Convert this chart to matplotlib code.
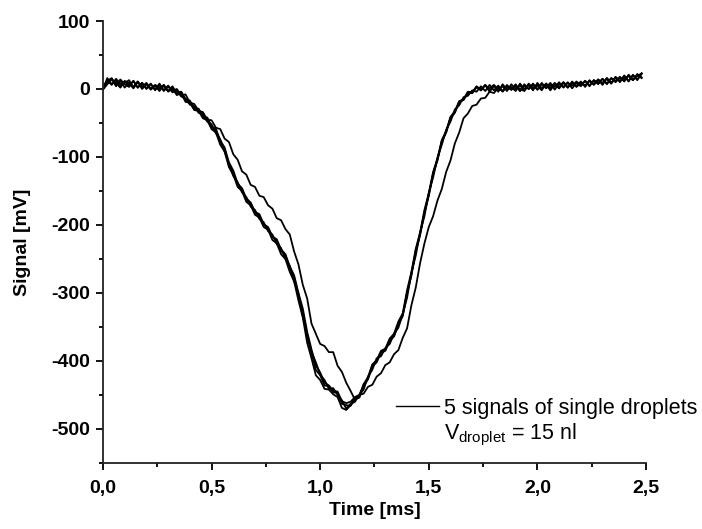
import numpy as np
import matplotlib
matplotlib.use('Agg')
import matplotlib.pyplot as plt
from matplotlib.lines import Line2D

plt.rcParams['font.family'] = ['Liberation Sans', 'DejaVu Sans']
plt.rcParams['mathtext.fontset'] = 'custom'
plt.rcParams['mathtext.rm'] = 'Liberation Sans'
plt.rcParams['axes.unicode_minus'] = False

# sampling times (ms), one value every 0.02 ms
time = np.linspace(0, 2.48, 125)

# droplet signals (mV)
sig1 = [0, 16, 7, 13, 3, 11, 5, 12, 2, 9,
        1, 8, -2, 6, -3, 4, -5, -2, -11, -14,
        -23, -25, -35, -37, -48, -52, -65, -74, -92, -110,
        -128, -137, -152, -159, -173, -178, -191, -196, -209, -214,
        -228, -234, -250, -260, -283, -301, -335, -362, -387, -402,
        -420, -428, -441, -440, -450, -458, -470, -463, -460, -450,
        -442, -423, -413, -396, -393, -381, -375, -360, -351, -331,
        -307, -270, -245, -211, -187, -153, -130, -101, -82, -60,
        -48, -30, -24, -12, -10, -2, -4, 4, -3, 6,
        -2, 5, -4, 4, -1, 7, -3, 5, 0, 8,
        -1, 7, 2, 9, -1, 8, 3, 10, 1, 9,
        4, 12, 5, 13, 7, 15, 8, 16, 10, 17,
        12, 20, 13, 21, 16]
sig2 = [3, 9, 15, 4, 12, 2, 10, 3, 11, 0,
        7, -1, 5, 0, 6, -3, 2, -7, -4, -17,
        -18, -28, -29, -41, -42, -55, -59, -76, -86, -108,
        -120, -139, -146, -161, -167, -181, -184, -199, -203, -217,
        -221, -236, -243, -261, -274, -300, -323, -357, -383, -406,
        -417, -432, -436, -444, -445, -459, -462, -460, -453, -450,
        -435, -426, -407, -400, -387, -384, -369, -363, -345, -333,
        -300, -273, -238, -213, -181, -156, -124, -104, -77, -63,
        -42, -34, -19, -16, -5, -6, 3, 0, 5, 1,
        6, -2, 4, -3, 7, 0, 5, -2, 8, 1,
        7, 0, 8, 2, 9, 1, 10, 3, 8, 4,
        11, 3, 13, 6, 14, 8, 16, 9, 17, 11,
        19, 12, 20, 14, 22]
sig3 = [-1, 7, 14, 9, 2, 12, 8, 1, 10, 3,
        9, 0, 5, -3, 6, -4, 1, -9, -6, -19,
        -20, -31, -32, -43, -46, -59, -64, -82, -92, -115,
        -126, -144, -150, -166, -171, -185, -189, -203, -207, -222,
        -227, -243, -250, -269, -283, -311, -336, -373, -396, -421,
        -428, -441, -442, -449, -453, -469, -472, -465, -454, -453,
        -434, -424, -405, -399, -385, -382, -367, -360, -342, -330,
        -296, -269, -235, -211, -178, -153, -122, -102, -75, -62,
        -41, -33, -18, -15, -4, -5, 4, -2, 6, -3,
        5, -4, 7, -1, 3, -3, 8, 0, 6, -2,
        9, 1, 7, -2, 8, 3, 10, 2, 11, 4,
        9, 5, 12, 7, 14, 6, 16, 8, 18, 10,
        20, 11, 21, 13, 23]
sig4 = [2, 13, 6, 15, 7, 9, 13, 2, 11, 3,
        8, 0, 6, 2, 4, -3, 4, -7, -4, -15,
        -17, -29, -30, -40, -43, -56, -60, -78, -89, -112,
        -123, -141, -147, -163, -168, -182, -186, -200, -204, -218,
        -223, -238, -245, -263, -277, -304, -328, -363, -388, -413,
        -421, -436, -437, -446, -447, -463, -465, -466, -456, -454,
        -437, -427, -408, -402, -388, -385, -370, -364, -346, -334,
        -301, -274, -239, -215, -182, -157, -125, -105, -77, -64,
        -43, -35, -19, -16, -6, -6, 3, -2, 6, -4,
        5, 1, -3, 6, -1, 4, -3, 7, 0, 6,
        -1, 9, 1, 6, 3, 10, 2, 9, 5, 11,
        6, 12, 4, 13, 9, 15, 7, 16, 12, 18,
        11, 21, 14, 19, 23]
sig5 = [0, 12, 16, 6, 14, 7, 3, 12, 2, 9,
        0, 7, -1, 8, -2, 5, -3, 0, -9, -8,
        -20, -22, -32, -34, -45, -46, -57, -59, -73, -78,
        -96, -104, -121, -126, -141, -144, -157, -159, -171, -176,
        -190, -193, -206, -214, -239, -258, -288, -308, -345, -360,
        -375, -378, -387, -387, -407, -416, -432, -444, -457, -450,
        -448, -438, -435, -423, -418, -406, -402, -390, -384, -366,
        -352, -318, -292, -256, -227, -203, -187, -164, -147, -122,
        -105, -80, -64, -43, -36, -25, -23, -14, -13, -4,
        -6, 2, -3, 4, -1, 5, 0, -3, 6, 1,
        5, -2, 8, 0, 7, 1, 9, 2, 10, 3,
        9, 5, 12, 7, 13, 9, 15, 8, 17, 12,
        15, 19, 13, 22, 17]
signals = [sig1, sig2, sig3, sig4, sig5]

xticks = [0, 0.5, 1.0, 1.5, 2.0, 2.5]
xticklabels = ["0,0", "0,5", "1,0", "1,5", "2,0", "2,5"]
yticks = [-500, -400, -300, -200, -100, 0, 100]

fig = plt.figure(figsize=(7.02, 5.29), dpi=100)
ax = fig.add_axes([0.1467, 0.1248, 0.7735, 0.8355])

for s in signals:
    ax.plot(time, s, c='k', lw=1.3)

ax.set_xlim(0, 2.5)
ax.set_ylim(-550, 100)
ax.spines['top'].set_visible(False)
ax.spines['right'].set_visible(False)
for sp in ['left', 'bottom']:
    ax.spines[sp].set_linewidth(1.3)
    ax.spines[sp].set_color('#222222')

ax.set_xticks(xticks)
ax.set_xticklabels(xticklabels)
ax.set_xticks(np.arange(0.25, 2.5, 0.5), minor=True)
ax.set_yticks(yticks)
ax.set_yticks(np.arange(-550, 100, 100), minor=True)
ax.tick_params(which='major', direction='out', length=5, width=1.3, labelsize=14)
ax.tick_params(which='minor', direction='out', length=3, width=1.3)
ax.tick_params(axis='x', which='major', pad=7)
ax.tick_params(axis='y', which='major', pad=4)
for lab in ax.get_xticklabels() + ax.get_yticklabels():
    lab.set_fontweight('bold')

ax.set_xlabel("Time [ms]", fontsize=14, fontweight='bold', labelpad=4)
ax.set_ylabel("Signal [mV]", fontsize=14, fontweight='bold', labelpad=15)

handles = [Line2D([], [], c='k', lw=1.0), Line2D([], [], c='none')]
labels = ["5 signals of single droplets", r"V$_{\mathregular{droplet}}$ = 15 nl"]
ax.legend(handles, labels, loc='upper left', bbox_to_anchor=(0.539, 0.148),
          frameon=False, fontsize=15.5, handlelength=2.0, handletextpad=0.25,
          borderpad=0, borderaxespad=0, labelspacing=0.15)

fig.savefig('out.png', dpi=100)
